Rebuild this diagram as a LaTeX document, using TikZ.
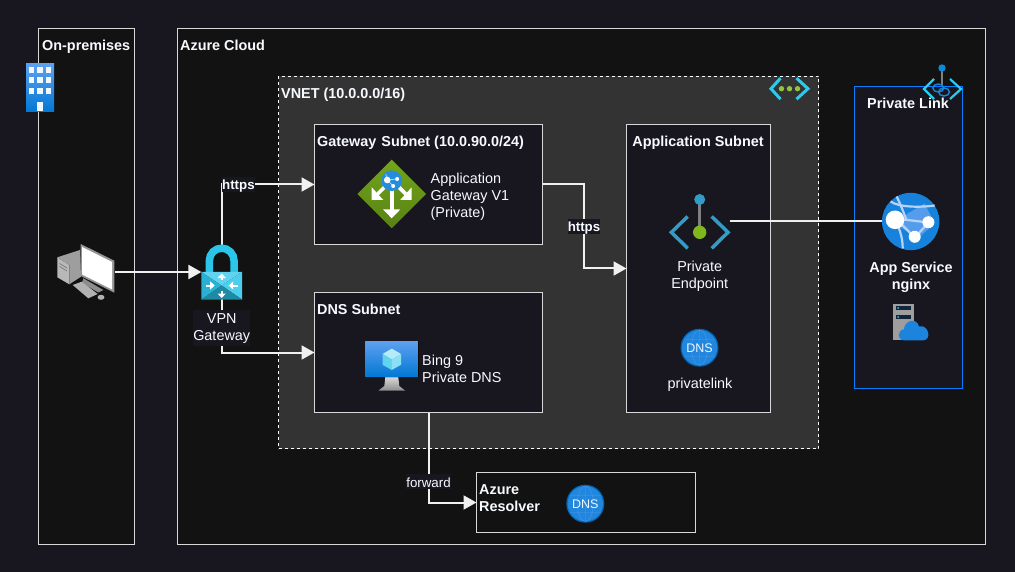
\documentclass[tikz,border=0pt]{standalone}
\usepackage{fontspec}
\setmainfont{Liberation Sans}
\usetikzlibrary{positioning,arrows.meta}

\definecolor{pagebg}{HTML}{18161F}
\definecolor{zonebg}{HTML}{121212}
\definecolor{vnetbg}{HTML}{333333}
\definecolor{edgegray}{HTML}{D8D8D8}
\definecolor{wirewhite}{HTML}{F0F0F0}
\definecolor{linkblue}{HTML}{0A7CFF}
\definecolor{azuretop}{HTML}{5EA0EF}
\definecolor{azurelow}{HTML}{0078D4}
\definecolor{cyanlock}{HTML}{2CC5EA}
\definecolor{chevblue}{HTML}{329CC8}
\definecolor{chevcyan}{HTML}{2BCBF0}
\definecolor{leafgreen}{HTML}{7FB81E}

\tikzset{
  pics/buildingicon/.style={code={
    \fill[top color=azuretop, bottom color=azurelow] (-14,-24) rectangle (14,24);
    \foreach \wx in {-8.7,0,8.3} \foreach \wy in {-18,-7.5,3}
      \fill[white!92!azuretop] (\wx-2.7,\wy-3) rectangle (\wx+2.7,\wy+3);
    \fill[white!92!azuretop] (-2.7,14) rectangle (2.7,23);
  }},
  pics/pcicon/.style={code={
    \fill[black!28] (-28.7,-14.7) -- (-16.7,-7) -- (-16.7,12.3) -- (-28.7,5.3) -- cycle;
    \fill[black!38] (-28.7,-14.7) -- (-6,-22) -- (-5,4.7) -- (-16.7,12.3) -- (-16.7,-7) -- cycle;
    \draw[black!55, line width=.6pt] (-26.5,-8.5) -- (-19,-4) (-26.5,-5.5) -- (-19,-1);
    \fill[black!45] (-2.7,6.3) -- (17.3,18) -- (12.3,20.5) -- (-4,11) -- cycle;
    \fill[black!42] (-5.3,-28) -- (28.3,-11.3) -- (28.3,20.7) -- (-5.3,4) -- cycle;
    \fill[white] (-3.8,-25) -- (26,-10) -- (26,17.5) -- (-3.8,2.5) -- cycle;
    \fill[black!30] (-13.3,13) -- (-4.3,9.7) -- (11.7,22) -- (2.3,26.3) -- cycle;
    \fill[black!30] (15,25.3) ellipse (3.5 and 2.5);
  }},
  pics/lockicon/.style={code={
    \draw[cyanlock, line width=7.5pt] (-12.3,1) -- (-12.3,-11.5) arc[start angle=180, end angle=360, radius=12.3] -- (12.3,1);
    \fill[cyanlock!75!white] (-20.3,0) -- (20.3,0) -- (0,13.5) -- cycle;
    \fill[cyanlock!90!black] (-20.3,0) -- (0,13.5) -- (-20.3,27.5) -- cycle;
    \fill[cyanlock!85!white] (20.3,0) -- (0,13.5) -- (20.3,27.5) -- cycle;
    \fill[cyanlock!70!black] (-20.3,27.5) -- (0,13.5) -- (20.3,27.5) -- cycle;
    \draw[white, line width=2pt, -{Triangle[length=4.5pt,width=8pt]}] (0,8) -- (0,1.5);
    \draw[white, line width=2pt, -{Triangle[length=4.5pt,width=8pt]}] (0,18.5) -- (0,26);
    \draw[white, line width=2pt, -{Triangle[length=4.5pt,width=8pt]}] (-16,13.5) -- (-7,13.5);
    \draw[white, line width=2pt, -{Triangle[length=4.5pt,width=8pt]}] (16,13.5) -- (7,13.5);
  }},
  pics/gatewayicon/.style={code={
    \fill[top color=leafgreen!90!black, bottom color=leafgreen!70!black] (0,-34.3) -- (34.3,0) -- (0,34.3) -- (-34.3,0) -- cycle;
    \draw[white, line width=3.6pt] (0,-8) -- (0,16);
    \fill[white] (-8.5,15.5) -- (8.5,15.5) -- (0,24.3) -- cycle;
    \draw[white, line width=3.6pt] (-14,0) -- (-5,-9);
    \fill[white] (-20,-6.7) -- (-20,6) -- (-8.4,6) -- cycle;
    \draw[white, line width=3.6pt] (14,0) -- (5,-9);
    \fill[white] (20,-6.7) -- (20,6) -- (8.4,6) -- cycle;
    \fill[azurelow!85!white] (0,-13.3) circle (10.3);
    \draw[white!60!azuretop, line width=.7pt] (-6,-20) -- (-4,-14) -- (5,-15) (-4,-14) -- (2,-7);
    \fill[white] (-4.5,-14) circle (3.3) (5.5,-15) circle (2) (1.5,-8) circle (2);
  }},
  pics/dnsicon/.style={code={
    \fill[azurelow!85!black] (0,0) circle (19);
    \fill[azurelow!65!azuretop] (0,0) circle (17.7);
    \draw[azuretop!85!azurelow, line width=.35pt] (0,0) ellipse (8 and 17.7) (0,-17.7) -- (0,17.7) (-15.5,-8.5) -- (15.5,-8.5) (-15.5,8.5) -- (15.5,8.5);
    \node[text=white!92!azuretop, inner sep=0, font=\fontsize{12.5}{15}\selectfont] (-txt) {DNS};
  }},
  pics/bingvmicon/.style={code={
    \fill[top color=black!15, bottom color=black!45] (-6.5,11) -- (6.5,11) -- (7.5,20) -- (13.5,24.7) -- (-13.5,24.7) -- (-7.5,20) -- cycle;
    \fill[top color=azuretop, bottom color=azurelow, rounded corners=.7pt] (-26.8,-25) rectangle (26.8,11);
    \fill[cyanlock!35!white] (0,-17.4) -- (9.3,-12) -- (0,-6.7) -- (-9.3,-12) -- cycle;
    \fill[cyanlock!75!white] (-9.3,-12) -- (0,-6.7) -- (0,4) -- (-9.3,-1.3) -- cycle;
    \fill[cyanlock!55!white] (9.3,-12) -- (0,-6.7) -- (0,4) -- (9.3,-1.3) -- cycle;
  }},
  pics/endpointicon/.style={code={
    \draw[black!50, line width=3pt] (0,-22) -- (0,10);
    \fill[chevblue] (0,-22) circle (5.5);
    \fill[leafgreen] (0,10.8) circle (6.7);
    \draw[chevblue, line width=3.5pt] (-12,-5) -- (-28.3,10.8) -- (-12,26.8);
    \draw[chevblue, line width=3.5pt] (12,-5) -- (28.3,10.8) -- (12,26.8);
  }},
  pics/webappicon/.style={code={
    \fill[azurelow!75!azuretop] (0,0) circle (28.7);
    \fill[azuretop!90!azurelow] (-3,-8) -- (14,-18) -- (24,2) -- (8,16) -- (-14,4) -- cycle;
    \draw[white!55!azuretop, line width=2.2pt] (-20,-20) .. controls (-12,-14) and (10,-14) .. (24,-16);
    \draw[white!55!azuretop, line width=2.2pt] (-15,-1) .. controls (-10,10) and (-8,18) .. (-8,27);
    \draw[white!55!azuretop, line width=2.2pt] (-16,-3) -- (18,1) -- (4,16) -- (-14,-2);
    \draw[white!55!azuretop, line width=2.2pt] (-14,-25) .. controls (-8,-12) and (-6,-6) .. (-4,-1);
    \fill[white] (-15.7,-1.7) circle (9.3) (17.7,0.7) circle (6) (4,15.3) circle (6);
  }},
  pics/servercloudicon/.style={code={
    \fill[black!38] (-17.7,-18) rectangle (3,18);
    \foreach \by in {-14.3,-5.3} {
      \fill[pagebg!85!azurelow] (-15,\by-2.3) rectangle (-0.3,\by+2.3);
      \fill[chevcyan] (-13,\by) circle (1);
    }
    \fill[azurelow!70!azuretop] (-7,18) .. controls (-14,18) and (-14,8) .. (-7,7) .. controls (-7,-1) and (5,-6) .. (8,4) .. controls (18,2) and (21,18) .. (12,18) -- cycle;
  }},
  pics/vneticon/.style={code={
    \draw[chevcyan, line width=3pt] (-9,-10.5) -- (-18.5,0) -- (-9,10.5);
    \draw[chevcyan, line width=3pt] (7,-10.5) -- (18.5,0) -- (7,10.5);
    \foreach \dotx in {-8,0,8} \fill[leafgreen!85!white] (\dotx,0) circle (2.7);
  }},
  pics/privatelinkicon/.style={code={
    \draw[black!50, line width=2pt] (0,-21) -- (0,-4);
    \fill[azurelow!80!chevcyan] (0,-21) circle (3.7);
    \draw[chevcyan, line width=2.2pt] (-8,-10) -- (-18,0) -- (-8,10);
    \draw[chevcyan, line width=2.2pt] (8,-10) -- (19,0) -- (8,10);
    \draw[azurelow!90!white, line width=1.4pt] (-3.7,-1) ellipse (5.5 and 4) (2,3) ellipse (5.5 and 4);
  }}
}

\begin{document}
\begin{tikzpicture}[
  x=1pt, y=-1pt,
  font=\fontsize{14.4}{17}\selectfont, text=white!95!azuretop,
  >={Triangle[length=13pt,width=14pt]},
  zonebox/.style={draw=edgegray, line width=1pt, fill=zonebg, anchor=north west, inner sep=0, outer sep=0},
  subnetbox/.style={zonebox, fill=pagebg},
  wire/.style={draw=wirewhite, line width=2pt},
  tag/.style={inner sep=0, font=\fontsize{14.4}{17}\selectfont\bfseries, text height=13pt, text depth=2pt, anchor=west},
  wiretag/.style={fill=pagebg, inner sep=0, text height=13pt, text depth=2pt},
  iconspot/.style={inner sep=0, outer sep=0, minimum width=#1, minimum height=#1},
]
  \fill[pagebg] (0,0) rectangle (1015,572);
  \useasboundingbox (0,0) rectangle (1015,572);

  \node[zonebox, minimum width=96pt, minimum height=516pt] (onprem) at (38.5,28.5) {};
  \node[zonebox, minimum width=808pt, minimum height=516pt] (azure) at (177.5,28.5) {};
  \node[zonebox, draw=white, fill=vnetbg, dash pattern=on 3pt off 3pt, minimum width=540pt, minimum height=372pt] (vnet) at (278.5,76.5) {};
  \node[subnetbox, minimum width=228pt, minimum height=120pt] (gwsubnet) at (314.5,124.5) {};
  \node[subnetbox, minimum width=228pt, minimum height=120pt] (dnssubnet) at (314.5,292.5) {};
  \node[subnetbox, minimum width=144pt, minimum height=288pt] (appsubnet) at (626.5,124.5) {};
  \node[subnetbox, draw=linkblue, minimum width=108pt, minimum height=302pt] (linkzone) at (854.5,86.5) {};
  \node[zonebox, minimum width=219pt, minimum height=60pt] (resolver) at (476.5,472.5) {};

  \node[iconspot=58pt] (pc) at (86,272) {};
  \node[iconspot=54pt, minimum width=40.6pt] (lock) at (221.7,272) {};
  \node[iconspot=54pt, minimum width=60pt] (endpoint) at (699.7,221.5) {};
  \node[iconspot=57.4pt] (webapp) at (910.7,221.5) {};

  \draw[wire, ->] (pc.east) -- (lock.west);
  \draw[wire, ->] (lock.north) |- node[wiretag, pos=0.59, font=\fontsize{13.3}{15}\selectfont\bfseries] (httpsa) {https} (gwsubnet.west);
  \draw[wire, ->] (lock.south) |- (dnssubnet.west);
  \draw[wire, ->] (gwsubnet.east) -- ++(41.5,0) |- node[wiretag, pos=0.25, font=\fontsize{13.3}{15}\selectfont\bfseries] (httpsb) {https} (appsubnet.west);
  \draw[wire] (endpoint.east) -- (webapp.west);
  \draw[wire, ->] (dnssubnet.south) |- node[wiretag, pos=0.385, font=\fontsize{13.3}{15}\selectfont] (forward) {forward} (resolver.west);

  \pic at (40,88) {buildingicon};
  \pic at (pc) {pcicon};
  \pic at (lock) {lockicon};
  \pic at (391.7,194) {gatewayicon};
  \pic at (391.8,366) {bingvmicon};
  \pic at (endpoint) {endpointicon};
  \pic at (webapp) {webappicon};
  \pic at (911,322.3) {servercloudicon};
  \pic (dnslink) at (699.5,347.7) {dnsicon};
  \pic (dnsres) at (585.3,503.7) {dnsicon};
  \pic at (789.5,88.7) {vneticon};
  \pic at (942,89) {privatelinkicon};

  \node[tag] (onpremtext) at (42,45) {On-premises};
  \node[tag] (azuretext) at (180,45) {Azure Cloud};
  \node[tag] (vnettext) at (281,93) {VNET (10.0.0.0/16)};
  \node[tag] (gwtext) at (317,141) {Gateway\hspace{1pt} Subnet (10.0.90.0/24)};
  \node[tag] (dnstext) at (317,309) {DNS Subnet};
  \node[tag, anchor=center] (apptext) at (698,141) {Application Subnet};
  \node[tag, anchor=center] (linktext) at (908,103) {Private Link};
  \node[inner sep=0, align=left, anchor=west] (gwname) at (430.5,197) {Application\\Gateway V1\\(Private)};
  \node[inner sep=0, align=left, anchor=west] (bingname) at (422,368.5) {Bing 9\\Private DNS};
  \node[fill=pagebg, inner xsep=0pt, inner ysep=3pt, align=center, below=11pt of lock] (vpnname) {VPN\\Gateway};
  \node[inner sep=0, align=center, below=12pt of endpoint] (endpointname) {Private\\Endpoint};
  \node[inner sep=0] (dnslinkname) at (700,385) {privatelink};
  \node[inner sep=0, align=center, font=\fontsize{14.4}{17}\selectfont\bfseries] (webappname) at (911,277.5) {App Service\\nginx};
  \node[inner sep=0, align=left, anchor=west, font=\fontsize{14.4}{17}\selectfont\bfseries] (resolvername) at (479,498.5) {Azure\\Resolver};
\end{tikzpicture}
\end{document}
